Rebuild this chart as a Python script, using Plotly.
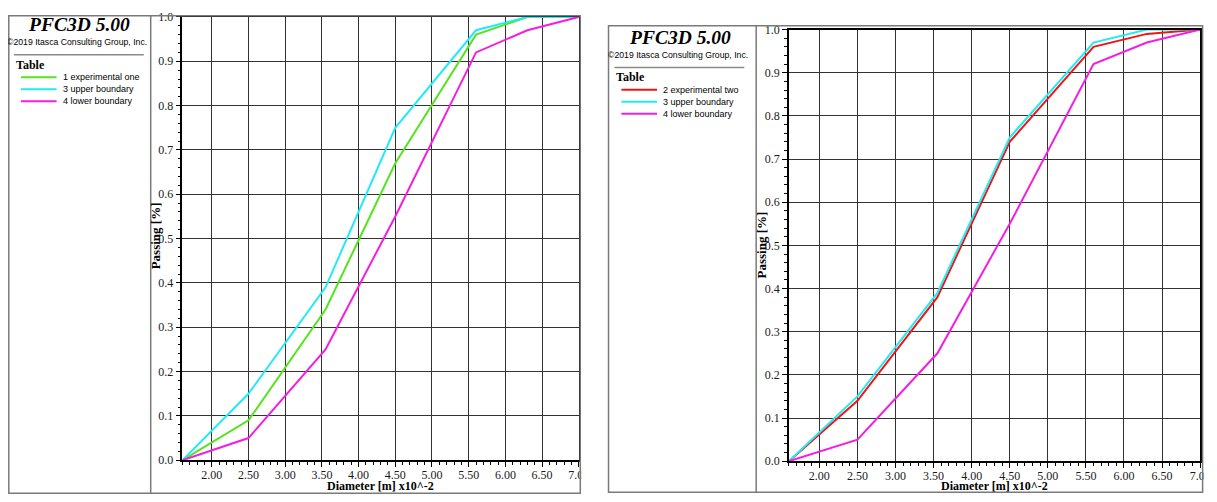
import plotly.graph_objects as go

# ---------------- data ----------------
diameter = [1.6, 2.5, 3.55, 4.5, 5.6, 6.3, 7.0]
exp_one = [0.0, 0.09, 0.34, 0.67, 0.96, 1.0, 1.0]
exp_two = [0.0, 0.14, 0.38, 0.74, 0.96, 0.99, 1.0]
upper_boundary = [0.0, 0.15, 0.39, 0.75, 0.97, 1.0, 1.0]
lower_boundary = [0.0, 0.05, 0.25, 0.55, 0.92, 0.97, 1.0]

left_names = ["1 experimental one", "3 upper boundary", "4 lower boundary"]
right_names = ["2 experimental two", "3 upper boundary", "4 lower boundary"]
left_series = [exp_one, upper_boundary, lower_boundary]
right_series = [exp_two, upper_boundary, lower_boundary]
left_colors = ["#55e41e", "#22eaf6", "#f41ee2"]
right_colors = ["#f01414", "#22eaf6", "#f41ee2"]

x_ticks = [2.0, 2.5, 3.0, 3.5, 4.0, 4.5, 5.0, 5.5, 6.0, 6.5, 7.0]
y_ticks = [0.0, 0.1, 0.2, 0.3, 0.4, 0.5, 0.6, 0.7, 0.8, 0.9, 1.0]

W, H = 1217, 502
OFF = 8  # the page places the figure 8 px from the window's top-left corner


def px(x):
    """page pixel x -> paper fraction"""
    return (x - OFF) / W


def py(y):
    """page pixel y -> paper fraction"""
    return 1 - (y - OFF) / H


fig = go.Figure()

SERIF = "Liberation Serif"
SANS = "Liberation Sans"

panels = [
    # axis id, names, series, colours, plot box (l, r, t, b), frame (l, r, t, b), divider x, dx, dy, y-title y
    ("", left_names, left_series, left_colors, (184, 584, 10, 466), (8.8, 585.5, 8.8, 500), 152, 0, 0, 235),
    ("2", right_names, right_series, right_colors, (796, 1211, 23, 467), (614, 1213.5, 19, 499), 763, 606, 13, 245),
]

shapes = []
annotations = []

# white strips that clip the overflowing "7.00" tick labels at the panel edges
shapes.append(dict(type="rect", xref="paper", yref="paper", x0=px(586.5), x1=px(613), y0=-0.1, y1=1.1,
                   fillcolor="white", line=dict(width=0), layer="above"))
shapes.append(dict(type="rect", xref="paper", yref="paper", x0=px(1214.5), x1=px(1240), y0=-0.1, y1=1.1,
                   fillcolor="white", line=dict(width=0), layer="above"))

for axid, names, series, colors, pbox, frame, divx, dx, dy, ytitle_y in panels:
    for name, ys, col in zip(names, series, colors):
        fig.add_trace(go.Scatter(
            x=diameter, y=ys, mode="lines", name=name,
            line=dict(color=col, width=2),
            xaxis="x" + axid, yaxis="y" + axid, showlegend=False,
            hoverinfo="x+y+name",
        ))
    l, r, t, b = pbox
    axis_common = dict(
        showline=True, mirror=True, linecolor="black", linewidth=1.5,
        showgrid=True, gridcolor="#333333", gridwidth=1.2, zeroline=False,
        ticks="outside", ticklen=5, tickcolor="black", tickwidth=1,
        tickfont=dict(family=SERIF, size=12, color="#1a1a1a"),
    )
    fig.layout["xaxis" + axid] = dict(
        domain=[px(l), px(r)], range=[1.6, 7.0], anchor="y" + axid,
        tickvals=x_ticks, tickformat=".2f", ticklabelstandoff=-2,
        minor=dict(ticks="outside", ticklen=3, dtick=0.1, tick0=1.6, tickcolor="black", showgrid=False),
        **axis_common,
    )
    fig.layout["yaxis" + axid] = dict(
        domain=[py(b), py(t)], range=[0.0, 1.0], anchor="x" + axid,
        tickvals=y_ticks, tickformat=".1f",
        minor=dict(ticks="outside", ticklen=3, dtick=0.02, tickcolor="black", showgrid=False),
        **axis_common,
    )

    fl, fr, ft, fb = frame
    shapes.append(dict(type="rect", xref="paper", yref="paper", x0=px(fl), x1=px(fr), y0=py(fb), y1=py(ft),
                       line=dict(color="#7a7a7a", width=1.5), layer="above"))
    shapes.append(dict(type="line", xref="paper", yref="paper", x0=px(divx), x1=px(divx), y0=py(fb), y1=py(ft),
                       line=dict(color="#7a7a7a", width=1.5), layer="above"))
    shapes.append(dict(type="line", xref="paper", yref="paper", x0=px(14 + dx), x1=px(145 + dx),
                       y0=py(49 + dy), y1=py(49 + dy), line=dict(color="#8a8a8a", width=1.5), layer="above"))
    annotations.append(dict(text="<b><i>PFC3D 5.00</i></b>", x=px(80 + dx), y=py(18 + dy), xref="paper", yref="paper",
                            showarrow=False, xanchor="center", yanchor="middle",
                            font=dict(family=SERIF, size=19.5, color="black")))
    annotations.append(dict(text="©2019 Itasca Consulting Group, Inc.", x=px(78 + dx), y=py(36 + dy), xref="paper",
                            yref="paper", showarrow=False, xanchor="center", yanchor="middle",
                            font=dict(family=SANS, size=8.7, color="black")))
    annotations.append(dict(text="<b>Table</b>", x=px(14 + dx), y=py(59 + dy), xref="paper", yref="paper",
                            showarrow=False, xanchor="left", yanchor="middle",
                            font=dict(family=SERIF, size=12, color="black")))
    for i, (name, col) in enumerate(zip(names, colors)):
        yy = 72 + dy + i * 12.3
        shapes.append(dict(type="line", xref="paper", yref="paper", x0=px(21 + dx), x1=px(57 + dx),
                           y0=py(yy), y1=py(yy), line=dict(color=col, width=2), layer="above"))
        annotations.append(dict(text=name, x=px(61 + dx), y=py(yy), xref="paper", yref="paper",
                                showarrow=False, xanchor="left", yanchor="middle",
                                font=dict(family=SANS, size=9, color="black")))
    annotations.append(dict(text="<b>Diameter [m] x10^-2</b>", x=px((l + r) / 2), y=py(b + 26), xref="paper",
                            yref="paper", showarrow=False, xanchor="center", yanchor="middle",
                            font=dict(family=SERIF, size=12, color="black")))
    annotations.append(dict(text="<b>Passing [%]</b>", x=px(divx + 5), y=py(ytitle_y), xref="paper",
                            yref="paper", showarrow=False, xanchor="center", yanchor="middle", textangle=-90,
                            font=dict(family=SERIF, size=13, color="black")))

fig.update_layout(
    width=W, height=H, margin=dict(l=0, r=0, t=0, b=0),
    paper_bgcolor="white", plot_bgcolor="white",
    shapes=shapes, annotations=annotations, showlegend=False,
)

fig.write_html("out.html")
